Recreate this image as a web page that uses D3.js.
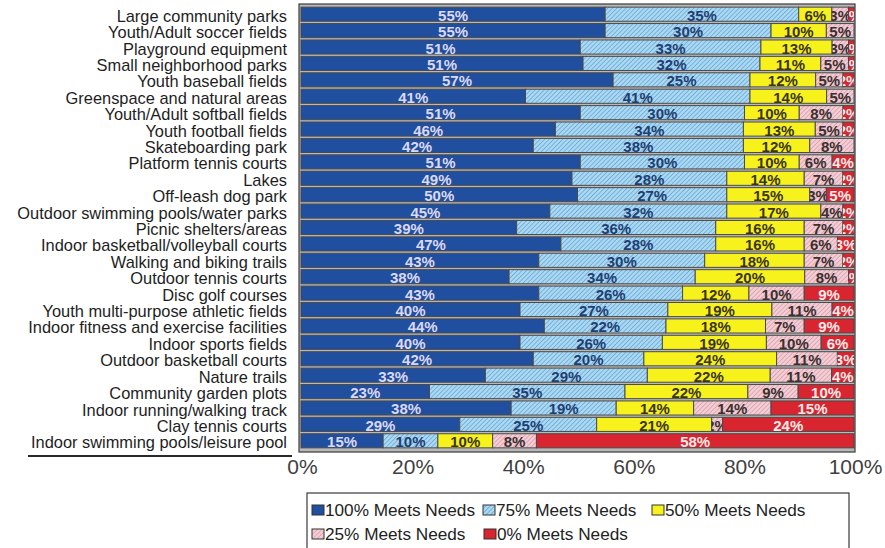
<!DOCTYPE html>
<html>
<head>
<meta charset="utf-8">
<script src="https://cdn.jsdelivr.net/npm/d3@7"></script>
<style>
  body { margin: 0; background: #fff; }
  svg { display: block; font-family: "Liberation Sans", Arial, sans-serif; }
</style>
</head>
<body>
<svg id="chart" width="885" height="548"></svg>
<script>
// Facility ratings: share of respondents saying each facility meets their needs
const categories = [
  "Large community parks",
  "Youth/Adult soccer fields",
  "Playground equipment",
  "Small neighborhood parks",
  "Youth baseball fields",
  "Greenspace and natural areas",
  "Youth/Adult softball fields",
  "Youth football fields",
  "Skateboarding park",
  "Platform tennis courts",
  "Lakes",
  "Off-leash dog park",
  "Outdoor swimming pools/water parks",
  "Picnic shelters/areas",
  "Indoor basketball/volleyball courts",
  "Walking and biking trails",
  "Outdoor tennis courts",
  "Disc golf courses",
  "Youth multi-purpose athletic fields",
  "Indoor fitness and exercise facilities",
  "Indoor sports fields",
  "Outdoor basketball courts",
  "Nature trails",
  "Community garden plots",
  "Indoor running/walking track",
  "Clay tennis courts",
  "Indoor swimming pools/leisure pool"
];
const meets100 = [55, 55, 51, 51, 57, 41, 51, 46, 42, 51, 49, 50, 45, 39, 47, 43, 38, 43, 40, 44, 40, 42, 33, 23, 38, 29, 15];
const meets75  = [35, 30, 33, 32, 25, 41, 30, 34, 38, 30, 28, 27, 32, 36, 28, 30, 34, 26, 27, 22, 26, 20, 29, 35, 19, 25, 10];
const meets50  = [ 6, 10, 13, 11, 12, 14, 10, 13, 12, 10, 14, 15, 17, 16, 16, 18, 20, 12, 19, 18, 19, 24, 22, 22, 14, 21, 10];
const meets25  = [ 3,  5,  3,  5,  5,  5,  8,  5,  8,  6,  7,  3,  4,  7,  6,  7,  8, 10, 11,  7, 10, 11, 11,  9, 14,  2,  8];
const meets0   = [ 1,  0,  1,  1,  2,  0,  2,  2,  0,  4,  2,  5,  2,  2,  3,  2,  1,  9,  4,  9,  6,  3,  4, 10, 15, 24, 58];

const seriesNames = ["100% Meets Needs", "75% Meets Needs", "50% Meets Needs", "25% Meets Needs", "0% Meets Needs"];
const tickLabels = ["0%", "20%", "40%", "60%", "80%", "100%"];

const seriesValues = [meets100, meets75, meets50, meets25, meets0];
const rows = categories.map((c, i) => {
  const r = { category: c };
  seriesNames.forEach((s, k) => { r[s] = seriesValues[k][i]; });
  return r;
});

const svg = d3.select("#chart");
const defs = svg.append("defs");

// Hatch fills for the 75% and 25% series
function hatch(id, base, line) {
  const p = defs.append("pattern")
    .attr("id", id).attr("patternUnits", "userSpaceOnUse")
    .attr("width", 3.2).attr("height", 3.2)
    .attr("patternTransform", "rotate(45)");
  p.append("rect").attr("width", 3.2).attr("height", 3.2).attr("fill", base);
  p.append("line").attr("x1", 0).attr("y1", 0).attr("x2", 0).attr("y2", 3.2)
    .attr("stroke", line).attr("stroke-width", 1);
}
hatch("hatchBlue", "#a9d8f2", "#4d8cc4");
hatch("hatchPink", "#f4ccd4", "#c98a98");

const fills = ["#1f4f9e", "url(#hatchBlue)", "#f7f21c", "url(#hatchPink)", "#d8252f"];
const labelColors = ["#dcd8f2", "#1f3f72", "#3a3418", "#3a3030", "#fbeaea"];

const x = d3.scaleLinear().domain([0, 1]).range([301, 854]);
const y = d3.scaleBand().domain(categories).range([6, 449]).paddingInner(0.14).paddingOuter(0.07);

// Plot frame with grey gaps between bars
svg.append("rect")
  .attr("x", x(0) - 2).attr("y", 4)
  .attr("width", x(1) - x(0) + 3).attr("height", 448)
  .attr("fill", "#b9b9b9").attr("stroke", "#3a3a3a").attr("stroke-width", 1.2);

const stack = d3.stack().keys(seriesNames).offset(d3.stackOffsetExpand);
const layers = stack(rows);

const layerG = svg.append("g").selectAll("g")
  .data(layers).join("g")
  .attr("fill", (d, i) => fills[i]);

let clipId = 0;
layerG.each(function (layer, li) {
  const g = d3.select(this);
  layer.forEach(seg => {
    const x0 = x(seg[0]), x1 = x(seg[1]);
    const yy = y(seg.data.category), h = y.bandwidth();
    const w = Math.max(0, x1 - x0);
    if (w <= 0) return;
    g.append("rect")
      .attr("x", x0).attr("y", yy)
      .attr("width", w).attr("height", h)
      .attr("stroke", "#4a4a4a").attr("stroke-width", 1);
    // values in narrow segments are cut off at the segment edges
    const id = "seg" + (clipId++);
    defs.append("clipPath").attr("id", id)
      .append("rect").attr("x", x0).attr("y", yy).attr("width", w).attr("height", h);
    const v = seg.data[layer.key];
    if (v > 0) {
      g.append("text")
        .attr("clip-path", `url(#${id})`)
        .attr("x", (x0 + x1) / 2)
        .attr("y", yy + h / 2 + 1)
        .attr("text-anchor", "middle")
        .attr("dominant-baseline", "central")
        .attr("font-size", 15).attr("font-weight", "bold")
        .attr("fill", labelColors[li])
        .text(v + "%");
    }
  });
});

// Category axis
const yAxis = svg.append("g")
  .attr("transform", `translate(${x(0) - 14},0)`)
  .call(d3.axisLeft(y).tickSize(0).tickPadding(0));
yAxis.select(".domain").remove();
yAxis.selectAll("text")
  .attr("font-size", 16.4).attr("fill", "#1e1e1e")
  .attr("font-family", "Liberation Sans, Arial, sans-serif")
  .attr("dy", "0.46em");

// Rule under the last category
svg.append("line")
  .attr("x1", 28).attr("x2", 292).attr("y1", 456).attr("y2", 456)
  .attr("stroke", "#2a2a2a").attr("stroke-width", 2);

// Percentage axis
const xAxis = svg.append("g")
  .attr("transform", "translate(1,451)")
  .call(d3.axisBottom(x)
    .tickValues(tickLabels.map(t => parseFloat(t) / 100))
    .tickFormat((d, i) => tickLabels[i])
    .tickSize(0).tickPadding(8));
xAxis.select(".domain").remove();
xAxis.selectAll("text")
  .attr("font-size", 21).attr("fill", "#404040")
  .attr("font-family", "Liberation Sans, Arial, sans-serif");

// Legend
const legend = svg.append("g");
legend.append("rect")
  .attr("x", 307).attr("y", 493).attr("width", 542).attr("height", 62)
  .attr("fill", "#fff").attr("stroke", "#3a3a3a").attr("stroke-width", 1.2);
const legendPos = [[312, 510], [483, 510], [652, 510], [312, 534], [484, 534]];
seriesNames.forEach((name, i) => {
  const [lx, ly] = legendPos[i];
  legend.append("rect")
    .attr("x", lx).attr("y", ly - 5).attr("width", 12).attr("height", 10)
    .attr("fill", fills[i]).attr("stroke", "#333").attr("stroke-width", 1);
  legend.append("text")
    .attr("x", lx + 13).attr("y", ly)
    .attr("dominant-baseline", "central")
    .attr("font-size", 17.2).attr("fill", "#222")
    .text(name);
});
</script>
</body>
</html>
